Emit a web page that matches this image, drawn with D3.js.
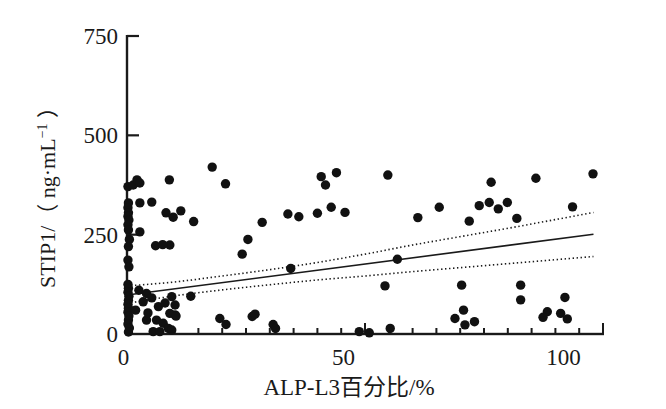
<!DOCTYPE html>
<html><head><meta charset="utf-8">
<script src="https://cdn.jsdelivr.net/npm/d3@7"></script>
<style>body{margin:0;background:#fff}svg{display:block}</style>
</head><body>
<script>
// ---- data ----
const xTicksMajor = [0, 50, 100];
const yTicks = [0, 250, 500, 750];
const ptsX = [
  0.2,0.3,0.2,0.3,0.2,0.4,0.2,0.3,0.5,0.3,0.2,0.4,0.2,0.3,0.2,0.4,0.3,0.2,0.3,0.2,0.4,0.3,0.2,0.5,0.3,
  1.3,2.1,2.7,8.9,2.7,5.2,2.7,9.0,17.9,20.7,6.0,7.5,8.2,9.7,11.3,14.0,
  4.1,3.4,5.2,6.6,8.0,9.4,10.1,10.1,4.1,4.4,6.2,7.6,9.0,8.7,5.5,6.9,10.3,9.4,13.4,1.8,2.5,
  19.5,20.8,26.3,26.9,30.7,31.2,48.8,50.9,55.3,
  40.8,41.7,44.0,54.8,33.8,36.1,40.0,42.9,45.8,28.4,25.4,24.2,34.4,56.8,54.2,61.1,
  65.6,71.9,74.0,76.1,76.5,78.0,79.9,81.9,85.9,93.6,97.9,
  70.3,70.7,68.9,71.0,73.0,82.7,82.7,92.0,88.3,87.4,91.1,92.5
];
const ptsY = [
  371,330,318,305,296,287,275,262,238,220,186,169,125,115,105,95,85,75,65,55,45,35,25,15,5,
  375,388,380,388,330,332,257,224,420,378,222,225,305,294,310,283,
  102,81,91,69,78,94,73,48,35,53,35,27,52,14,6,6,45,10,95,60,110,
  39,24,44,50,24,14,6,3,14,
  396,375,406,400,302,295,304,319,306,281,238,201,165,188,121,293,
  319,284,323,331,382,315,331,291,392,320,403,
  123,60,39,23,31,123,86,92,56,42,52,38
];
const fitX = [0, 98];
const fitY = [98, 251];
const ciX = [0, 10, 20, 30, 40, 50, 60, 70, 80, 90, 98];
const ciUpper = [121, 131, 146, 162, 180, 201, 224, 245, 266, 288, 306];
const ciLower = [77, 96, 111, 124, 136, 146, 157, 167, 177, 187, 195];

// ---- chart ----
const W = 666, H = 409;
const svg = d3.select("body").append("svg").attr("width", W).attr("height", H);
const x = d3.scaleLinear().domain([0, 100]).range([127, 603]);
const xLab = d3.scaleLinear().domain([0, 100]).range([123, 563]);
const y = d3.scaleLinear().domain([0, 750]).range([334, 36]);
const font = "Liberation Serif, Noto Sans CJK SC, serif";
const ink = "#1a1a1a";

// axes: lines & ticks (inward)
const xMinor = d3.range(5, 101, 5);
svg.append("rect").attr("x", 126).attr("y", 332.8).attr("width", 478).attr("height", 2.4).attr("fill", ink);
svg.append("rect").attr("x", 125.8).attr("y", 35).attr("width", 2.4).attr("height", 300).attr("fill", ink);
svg.append("g").selectAll("rect").data(xMinor).enter().append("rect")
  .attr("x", d => x(d) - 1).attr("width", 2)
  .attr("y", d => y(0) - (d % 50 === 0 ? 11 : 6)).attr("height", d => (d % 50 === 0 ? 11 : 6))
  .attr("fill", ink);
svg.append("g").selectAll("rect").data([250, 500, 750]).enter().append("rect")
  .attr("x", 127).attr("width", 12)
  .attr("y", d => y(d) - 1.1).attr("height", 2.2)
  .attr("fill", ink);

// CI dotted lines
const ciLine = arr => d3.line().x((d, i) => x(ciX[i])).y(d => y(d)).curve(d3.curveMonotoneX)(arr);
[ciUpper, ciLower].forEach(arr => {
  svg.append("path").attr("d", ciLine(arr)).attr("fill", "none")
    .attr("stroke", ink).attr("stroke-width", 1.6).attr("stroke-dasharray", "1.4,2.6");
});
// fit line
svg.append("path")
  .attr("d", d3.line().x((d, i) => x(fitX[i])).y(d => y(d))(fitY))
  .attr("fill", "none").attr("stroke", ink).attr("stroke-width", 1.6);

// points
svg.append("g").selectAll("circle").data(ptsX).enter().append("circle")
  .attr("cx", d => x(d)).attr("cy", (d, i) => y(ptsY[i])).attr("r", 4.7).attr("fill", "#111");

// tick labels via d3 axes
const gxl = svg.append("g").attr("transform", "translate(0,334)")
  .call(d3.axisBottom(xLab).tickValues(xTicksMajor).tickSize(0).tickPadding(15));
gxl.select(".domain").remove();
gxl.selectAll("text").attr("font-family", font).attr("font-size", 23).attr("fill", ink);
const gyl = svg.append("g").attr("transform", "translate(127,0)")
  .call(d3.axisLeft(y).tickValues(yTicks).tickSize(0).tickPadding(9));
gyl.select(".domain").remove();
gyl.selectAll("text").attr("font-family", font).attr("font-size", 23).attr("fill", ink);

// titles
svg.append("text").attr("x", 349).attr("y", 395).attr("text-anchor", "middle")
  .attr("font-family", font).attr("font-size", 23).attr("fill", ink).text("ALP-L3百分比/%");
const yt = svg.append("text").attr("transform", "translate(55,192) rotate(-90)")
  .attr("text-anchor", "middle").attr("font-family", font).attr("font-size", 22).attr("fill", ink);
yt.append("tspan").text("STIP1/（ ng·mL");
yt.append("tspan").attr("font-size", 14).attr("dy", -8).text("−1");
yt.append("tspan").attr("dy", 8).text(" ）");
</script>
</body></html>
